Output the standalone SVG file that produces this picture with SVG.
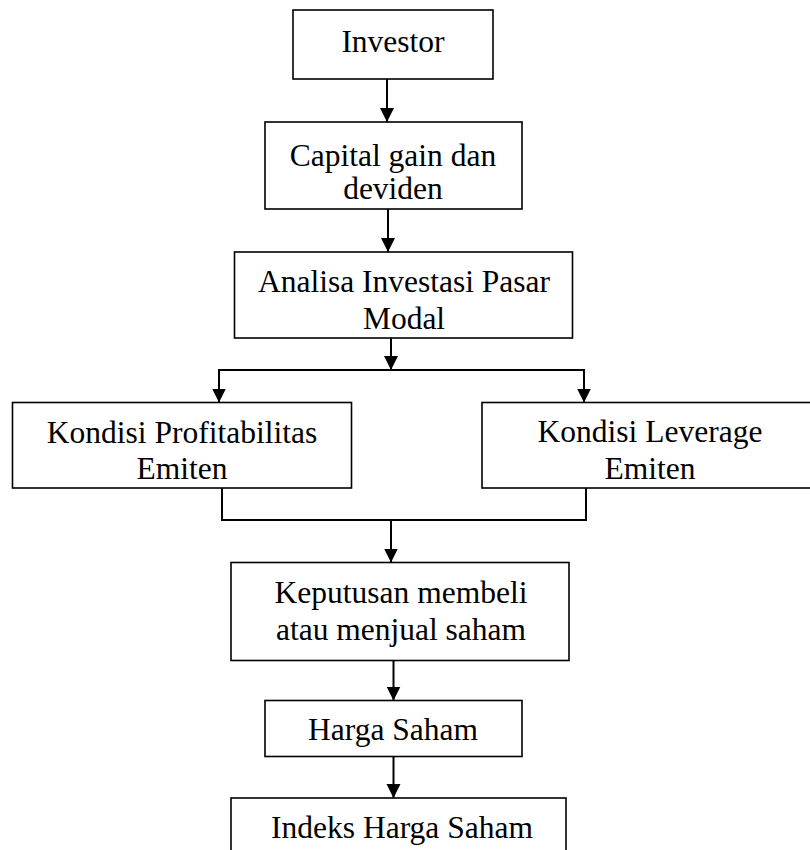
<svg xmlns="http://www.w3.org/2000/svg" width="810" height="850" viewBox="0 0 810 850">
<style>
.box{fill:#fff;stroke:#000;stroke-width:1.6}
.t{font-family:"Liberation Serif","Times New Roman",serif;font-size:31.5px;fill:#000;text-anchor:middle}
.ln{fill:none;stroke:#000;stroke-width:2}
</style>
<defs>
<marker id="ah" markerUnits="userSpaceOnUse" markerWidth="14" markerHeight="15" refX="14" refY="7" orient="auto">
<path d="M0,0 L14,7 L0,14 Z" fill="#000"/>
</marker>
</defs>
<rect width="810" height="850" fill="#fff"/>
<g id="connectors">
<line class="ln" x1="387" y1="79" x2="387" y2="122" marker-end="url(#ah)"/>
<line class="ln" x1="388" y1="209" x2="388" y2="252" marker-end="url(#ah)"/>
<line class="ln" x1="391" y1="338" x2="391" y2="370" marker-end="url(#ah)"/>
<polyline class="ln" points="219,402 219,370 584,370 584,402"/>
<line class="ln" x1="219" y1="380" x2="219" y2="402.5" marker-end="url(#ah)"/>
<line class="ln" x1="584" y1="380" x2="584" y2="402.5" marker-end="url(#ah)"/>
<polyline class="ln" points="222,488 222,520 586,520 586,488"/>
<line class="ln" x1="391" y1="520" x2="391" y2="562.5" marker-end="url(#ah)"/>
<line class="ln" x1="393.5" y1="660.5" x2="393.5" y2="700.5" marker-end="url(#ah)"/>
<line class="ln" x1="393.5" y1="756.5" x2="393.5" y2="798" marker-end="url(#ah)"/>
</g>
<g id="investor">
<rect class="box" x="293" y="10" width="200" height="69"/>
<text class="t" x="393" y="52">Investor</text>
</g>
<g id="capital">
<rect class="box" x="265" y="122" width="257" height="87"/>
<text class="t" x="393" y="165.5">Capital gain dan</text>
<text class="t" x="393" y="198.5">deviden</text>
</g>
<g id="analisa">
<rect class="box" x="234.5" y="252" width="338" height="86"/>
<text class="t" x="404" y="292">Analisa Investasi Pasar</text>
<text class="t" x="404" y="329">Modal</text>
</g>
<g id="profitabilitas">
<rect class="box" x="12.5" y="402.5" width="339" height="85.5"/>
<text class="t" x="182" y="443">Kondisi Profitabilitas</text>
<text class="t" x="182" y="479">Emiten</text>
</g>
<g id="leverage">
<rect class="box" x="482" y="402.5" width="336" height="85.5"/>
<text class="t" x="650" y="442">Kondisi Leverage</text>
<text class="t" x="650" y="479">Emiten</text>
</g>
<g id="keputusan">
<rect class="box" x="231" y="562.5" width="338" height="98"/>
<text class="t" x="401" y="603">Keputusan membeli</text>
<text class="t" x="401" y="640">atau menjual saham</text>
</g>
<g id="harga">
<rect class="box" x="265" y="700.5" width="257" height="56"/>
<text class="t" x="393" y="740">Harga Saham</text>
</g>
<g id="indeks">
<rect class="box" x="231" y="798" width="335" height="70"/>
<text class="t" x="402" y="838">Indeks Harga Saham</text>
</g>
</svg>
